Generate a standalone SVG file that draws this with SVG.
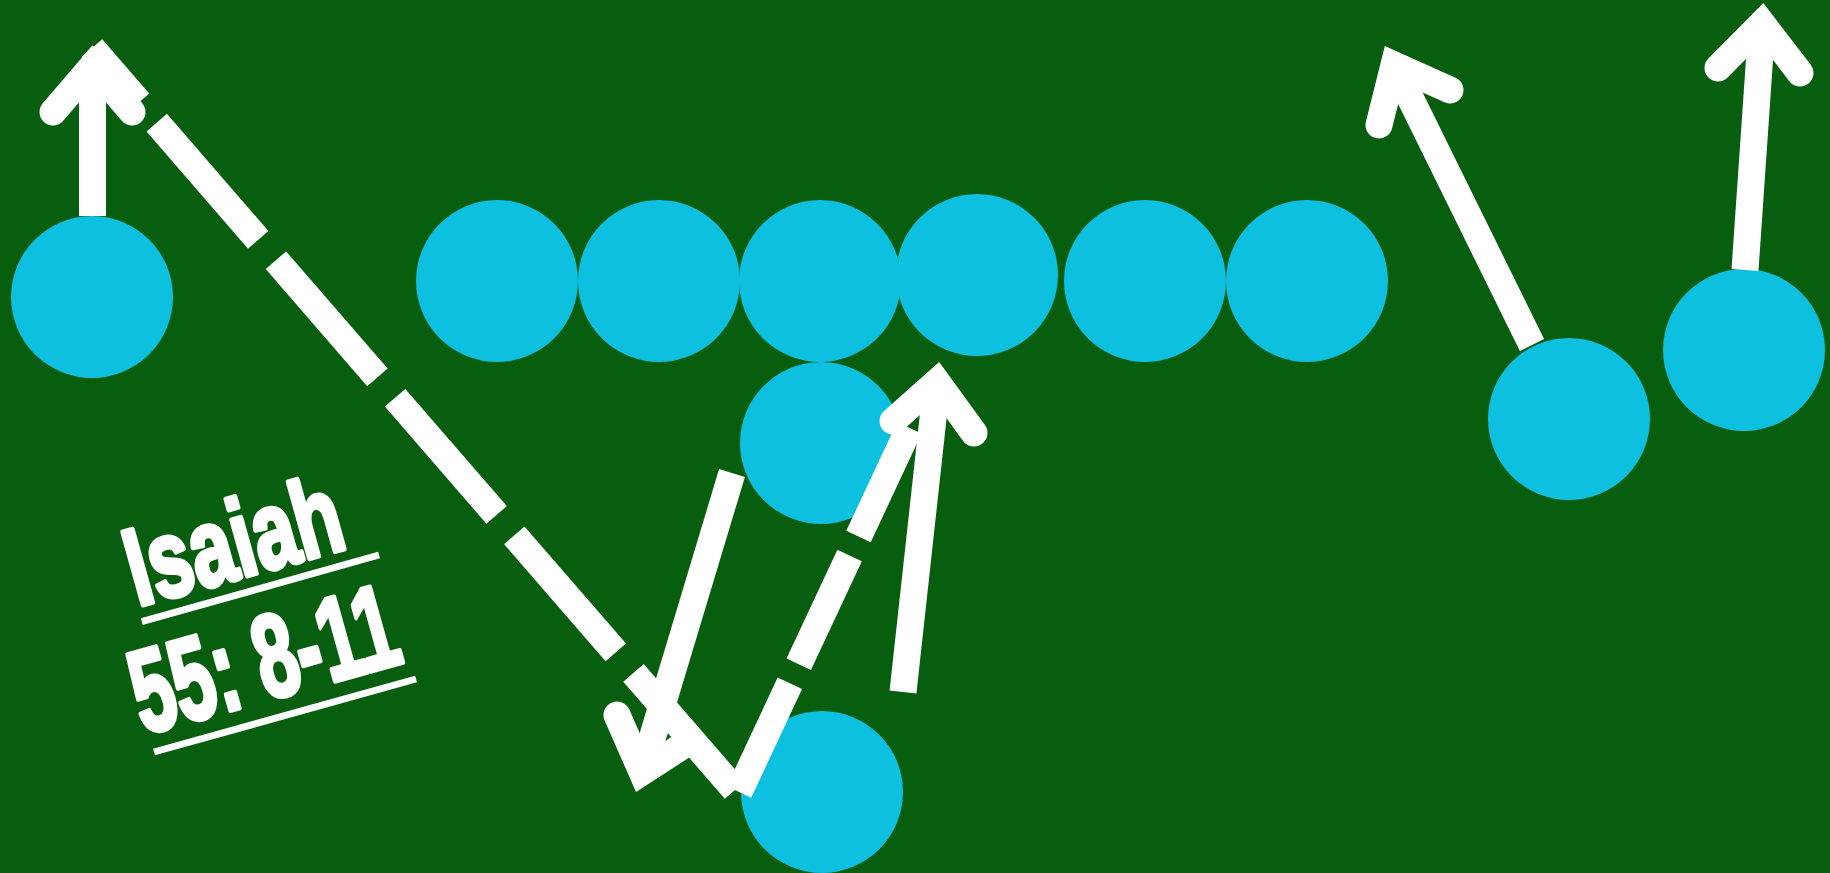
<svg xmlns="http://www.w3.org/2000/svg" width="1830" height="873" viewBox="0 0 1830 873">
<style>
.bg{fill:#075e0e}
.p{fill:#0dc0e0}
.ln{stroke:#fff;stroke-width:27;fill:none;stroke-linecap:butt}
.hd{stroke:#fff;stroke-width:27;fill:none;stroke-linecap:round;stroke-linejoin:miter;stroke-miterlimit:10}
.d1{stroke-dasharray:155 27}
.d2{stroke-dasharray:120 21}
.t{fill:#fff;stroke:#fff;stroke-width:5;stroke-linejoin:round;font-family:"Liberation Sans",Arial,sans-serif;font-weight:bold}
.ul{stroke:#fff;stroke-width:7}
</style>
<rect class="bg" width="1830" height="873"/>
<g id="players">
<circle id="p1" class="p" cx="92" cy="297" r="81"/>
<circle id="p2" class="p" cx="497" cy="281" r="81"/>
<circle id="p3" class="p" cx="659" cy="281" r="81"/>
<circle id="p4" class="p" cx="820" cy="281" r="81"/>
<circle id="p5" class="p" cx="977" cy="275" r="81"/>
<circle id="p6" class="p" cx="1145" cy="281" r="81"/>
<circle id="p7" class="p" cx="1307" cy="281" r="81"/>
<circle id="p8" class="p" cx="821" cy="443" r="81"/>
<circle id="p9" class="p" cx="822" cy="792" r="81"/>
<circle id="p10" class="p" cx="1569" cy="419" r="81"/>
<circle id="p11" class="p" cx="1744" cy="350" r="81"/>
</g>
<g id="connectors">
<path class="ln" d="M92.5,216 L92.5,66"/>
<path class="hd" d="M53,112 L92.5,66 L132,112"/>
<path class="ln" d="M732,473 L642,772"/>
<path class="hd" d="M617,715 L642,772 L690,741"/>
<path class="ln d1" d="M735,790 L92,48"/>
<path class="ln d2" d="M739,792 L928,388"/>
<path class="ln" d="M903,692 L937,382"/>
<path class="hd" d="M893,421 L937,382 L974,433"/>
<path class="ln" d="M1532,345 L1394,65"/>
<path class="hd" d="M1379,125 L1394,65 L1450,90"/>
<path class="ln" d="M1745,270 L1762,23.5"/>
<path class="hd" d="M1718,68 L1762,23.5 L1800,73"/>
</g>
<g id="title">
<text class="t" transform="translate(140,608) rotate(-15.6)" x="-2" y="-2" font-size="110" textLength="220" lengthAdjust="spacingAndGlyphs">Isaiah</text>
<line class="ul" x1="141.7" y1="621.7" x2="379" y2="555"/>
<text class="t" transform="translate(146,736) rotate(-15.6)" x="-2" y="-2" font-size="118" textLength="272" lengthAdjust="spacingAndGlyphs">55: 8-11</text>
<line class="ul" x1="154" y1="752" x2="416" y2="679"/>
</g>
</svg>
